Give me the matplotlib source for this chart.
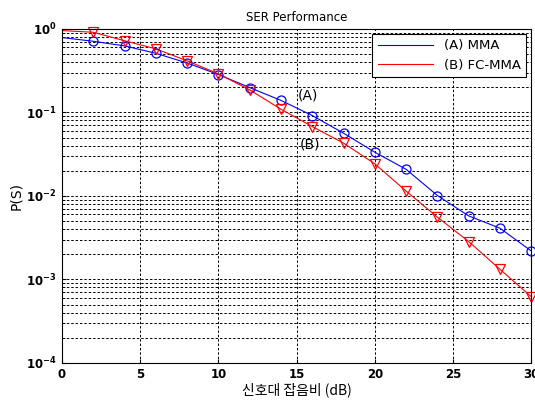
import matplotlib
matplotlib.use("Agg")
import matplotlib.pyplot as plt
import numpy as np

plt.rcParams['font.family'] = ['Noto Sans CJK KR', 'DejaVu Sans']

snr = [0, 2, 4, 6, 8, 10, 12, 14, 16, 18, 20, 22, 24, 26, 28, 30]
mma = [0.787, 0.71, 0.625, 0.51, 0.39, 0.284, 0.198, 0.139, 0.0916, 0.0563,
       0.0333, 0.0208, 0.0101, 0.00576, 0.0041, 0.00219]
fcmma = [0.954, 0.91, 0.72, 0.576, 0.414, 0.289, 0.186, 0.109, 0.0676, 0.0428,
         0.0242, 0.0114, 0.00556, 0.00284, 0.00132, 0.000622]
xticks = [0, 5, 10, 15, 20, 25, 30]
yticks = [1e-4, 1e-3, 1e-2, 1e-1, 1e0]
ytick_labels = [r'$\mathbf{10^{-4}}$', r'$\mathbf{10^{-3}}$', r'$\mathbf{10^{-2}}$',
                r'$\mathbf{10^{-1}}$', r'$\mathbf{10^{0}}$']

fig = plt.figure(figsize=(5.35, 4.01), dpi=100)
ax = fig.add_axes([0.116, 0.095, 0.877, 0.833])

ax.semilogy(snr, mma, color='blue', lw=0.8, label='(A) MMA')
ax.semilogy(snr, fcmma, color='red', lw=0.8, label='(B) FC-MMA')
ax.semilogy(snr[1:], mma[1:], ls='none', marker='o', mfc='none', mec='blue',
            ms=6.5, mew=0.9, clip_on=False)
ax.semilogy(snr[1:], fcmma[1:], ls='none', marker='v', mfc='none', mec='red',
            ms=6.5, mew=0.9, clip_on=False)

ax.set_xlim(0, 30)
ax.set_ylim(1e-4, 1)
ax.set_xticks(xticks)
ax.set_xticklabels([str(t) for t in xticks], fontweight='bold', fontsize=8.5,
                   family='DejaVu Sans')
ax.set_yticks(yticks)
ax.set_yticklabels(ytick_labels, fontsize=8.5)
ax.tick_params(direction='in', length=3, which='both', pad=4)
ax.tick_params(which='minor', length=2)

ax.grid(True, which='major', axis='both', ls=(0, (2.5, 2)), color='black', lw=0.7)
ax.grid(True, which='minor', axis='y', ls=(0, (2.5, 2)), color='black', lw=0.7)

ax.set_title('SER Performance', fontsize=8.5, family='DejaVu Sans', pad=6)
ax.set_ylabel('P(S)', fontsize=10, family='DejaVu Sans', labelpad=2)
ax.set_xlabel('신호대 잡음비 (dB)', fontsize=10, labelpad=1)

ax.text(15.1, 0.158, '(A)', fontsize=10, family='DejaVu Sans', ha='left', va='center')
ax.text(15.2, 0.041, '(B)', fontsize=10, family='DejaVu Sans', ha='left', va='center')

leg = ax.legend(loc='upper right', frameon=True, fancybox=False,
                edgecolor='black', borderaxespad=0.4, handlelength=4.2,
                prop={'family': 'DejaVu Sans', 'size': 9.5})
leg.get_frame().set_linewidth(0.8)
leg.get_frame().set_alpha(1)

for s in ax.spines.values():
    s.set_linewidth(0.8)

fig.savefig('out.png', dpi=100)
